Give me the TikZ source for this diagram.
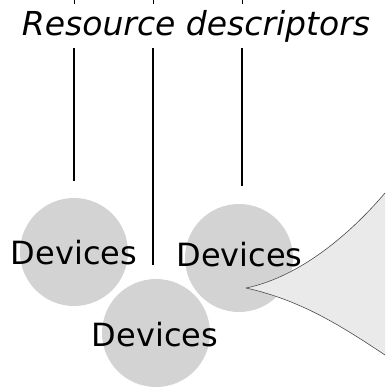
\documentclass[tikz,border=0pt]{standalone}
\usepackage{fontspec}
\setmainfont{DejaVu Sans}

\definecolor{devgray}{HTML}{D3D3D3}
\definecolor{conegray}{HTML}{EAEAEA}

\begin{document}
\begin{tikzpicture}[x=1pt,y=-1pt]
	\useasboundingbox (0,0) rectangle (385,390);
	\tikzset{dev/.style={circle,fill=devgray,minimum size=108pt,inner sep=0pt},
		devtext/.style={inner sep=0pt,font=\fontsize{32}{36}\selectfont}}
	
	\node[dev] (L) at (74,252) {};
	\node[dev] (B) at (156,333) {};
	\node[dev] (R) at (239,258) {};
	\node[devtext] (Lt) at (74,253) {Devices};
	\node[devtext] (Bt) at (155,335) {Devices};
	\node[devtext] (Rt) at (239.5,255) {Devices};
	
	\node[font=\fontsize{33}{38}\selectfont\itshape] (T) at (196,26) {Resource descriptors};
	
	% cone out of the right device
	\coordinate (tip) at (246,288);
	\coordinate (up) at (385,193);
	\coordinate (lo) at (385,355);
	\fill[conegray] (tip) .. controls (295,278) and (345,240) .. (up) -- (lo) .. controls (340,325) and (300,300) .. (tip);
	\draw[gray!60!black, line width=0.6pt] (tip) .. controls (295,278) and (345,240) .. (up);
	\draw[gray!60!black, line width=0.6pt] (tip) .. controls (300,300) and (340,325) .. (lo);
	
	% lines under the title
	\coordinate (s1) at (74,48);   \coordinate (e1) at (74,181);
	\coordinate (s2) at (153,48);  \coordinate (e2) at (153,265);
	\coordinate (s3) at (242,48);  \coordinate (e3) at (242,186);
	\draw [line width=1.6pt] (s1) -- (e1);
	\draw [line width=1.6pt] (s2) -- (e2);
	\draw [line width=1.6pt] (s3) -- (e3);
	
	% ticks at the top edge
	\coordinate (t1) at (74,0);   \coordinate (u1) at (74,4);
	\coordinate (t2) at (153,0);  \coordinate (u2) at (153,4);
	\coordinate (t3) at (242,0);  \coordinate (u3) at (242,4);
	\draw [line width=1pt] (t1) -- (u1);
	\draw [line width=1pt] (t2) -- (u2);
	\draw [line width=1pt] (t3) -- (u3);
	
\end{tikzpicture}
\end{document}
